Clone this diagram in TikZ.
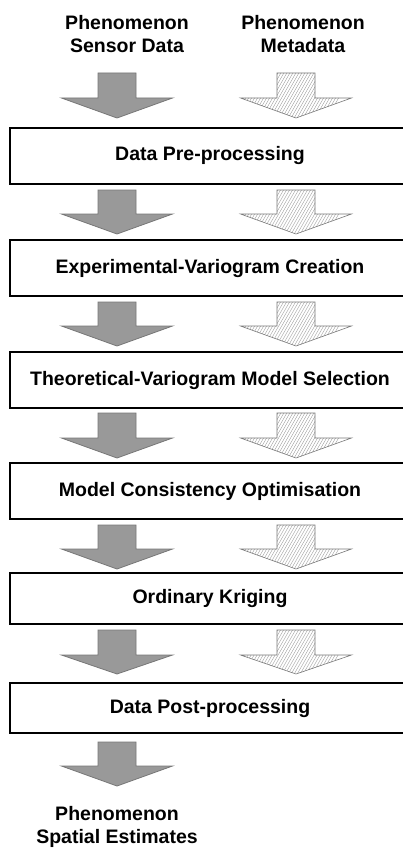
\documentclass[tikz,border=0pt]{standalone}
\usepackage{fontspec}
\setmainfont{Liberation Sans}
\definecolor{arrowfill}{HTML}{999999}
\definecolor{arrowline}{HTML}{777777}
\definecolor{hatchline}{HTML}{A0A0A0}
\tikzset{
  stagebox/.style={draw=black, line width=2pt, fill=white, minimum width=400pt, inner sep=0pt,
    font=\bfseries\fontsize{19.5}{23}\selectfont},
  labeltext/.style={align=center, inner sep=0pt, font=\bfseries\fontsize{19.5}{23}\selectfont},
  solidarrow/.style={fill=arrowfill, draw=arrowline, line width=0.8pt, line join=miter},
  hatcharrow/.style={draw=arrowline, line width=0.6pt, line join=miter},
  hatching/.style={draw=hatchline, line width=0.4pt}
}
% #1 centre x, #2 top, #3 head start, #4 tip
\newcommand{\solidblockarrow}[4]{%
  \path[solidarrow] (#1-19,#2) -- (#1+19,#2) -- (#1+19,#3) -- (#1+55.5,#3) -- (#1,#4)
    -- (#1-55.5,#3) -- (#1-19,#3) -- cycle;}
\newcommand{\hatchblockarrow}[4]{%
  \begin{scope}
    \clip (#1-19,#2) -- (#1+19,#2) -- (#1+19,#3) -- (#1+55.5,#3) -- (#1,#4)
      -- (#1-55.5,#3) -- (#1-19,#3) -- cycle;
    \foreach \k in {-60,-57,...,60} {
      \draw[hatching] (#1+\k-30,#4+2) -- (#1+\k+30,#2-58);
    }
  \end{scope}
  \path[hatcharrow] (#1-19,#2) -- (#1+19,#2) -- (#1+19,#3) -- (#1+55.5,#3) -- (#1,#4)
    -- (#1-55.5,#3) -- (#1-19,#3) -- cycle;}
\begin{document}
\begin{tikzpicture}[x=1pt,y=-1pt]
\useasboundingbox (0,0) rectangle (403,848);
\fill[white] (0,0) rectangle (403,848);

\node[labeltext] (srcdata) at (127,34) {Phenomenon\\Sensor Data};
\node[labeltext] (srcmeta) at (303,34) {Phenomenon\\Metadata};

\node[stagebox, minimum height=56pt] (pre) at (210,156) {Data Pre-processing};
\node[stagebox, minimum height=56pt] (exp) at (210,268) {Experimental-Variogram Creation};
\node[stagebox, minimum height=56pt] (theo) at (210,380) {Theoretical-Variogram Model Selection};
\node[stagebox, minimum height=56pt] (cons) at (210,491) {Model Consistency Optimisation};
\node[stagebox, minimum height=51pt] (krig) at (210,598.5) {Ordinary Kriging};
\node[stagebox, minimum height=50pt] (post) at (210,708) {Data Post-processing};

\node[labeltext] (result) at (117,827) {Phenomenon\\Spatial Estimates};

% arrows between stages
\solidblockarrow{117}{73}{98}{118}
\hatchblockarrow{296}{73}{98}{118}
\solidblockarrow{117}{190}{214}{234}
\hatchblockarrow{296}{190}{214}{234}
\solidblockarrow{117}{302}{326}{346}
\hatchblockarrow{296}{302}{326}{346}
\solidblockarrow{117}{413}{438}{458}
\hatchblockarrow{296}{413}{438}{458}
\solidblockarrow{117}{525}{549}{569}
\hatchblockarrow{296}{525}{549}{569}
\solidblockarrow{117}{630}{655}{674}
\hatchblockarrow{296}{630}{655}{674}
\solidblockarrow{117}{742}{766}{786}
\end{tikzpicture}
\end{document}
